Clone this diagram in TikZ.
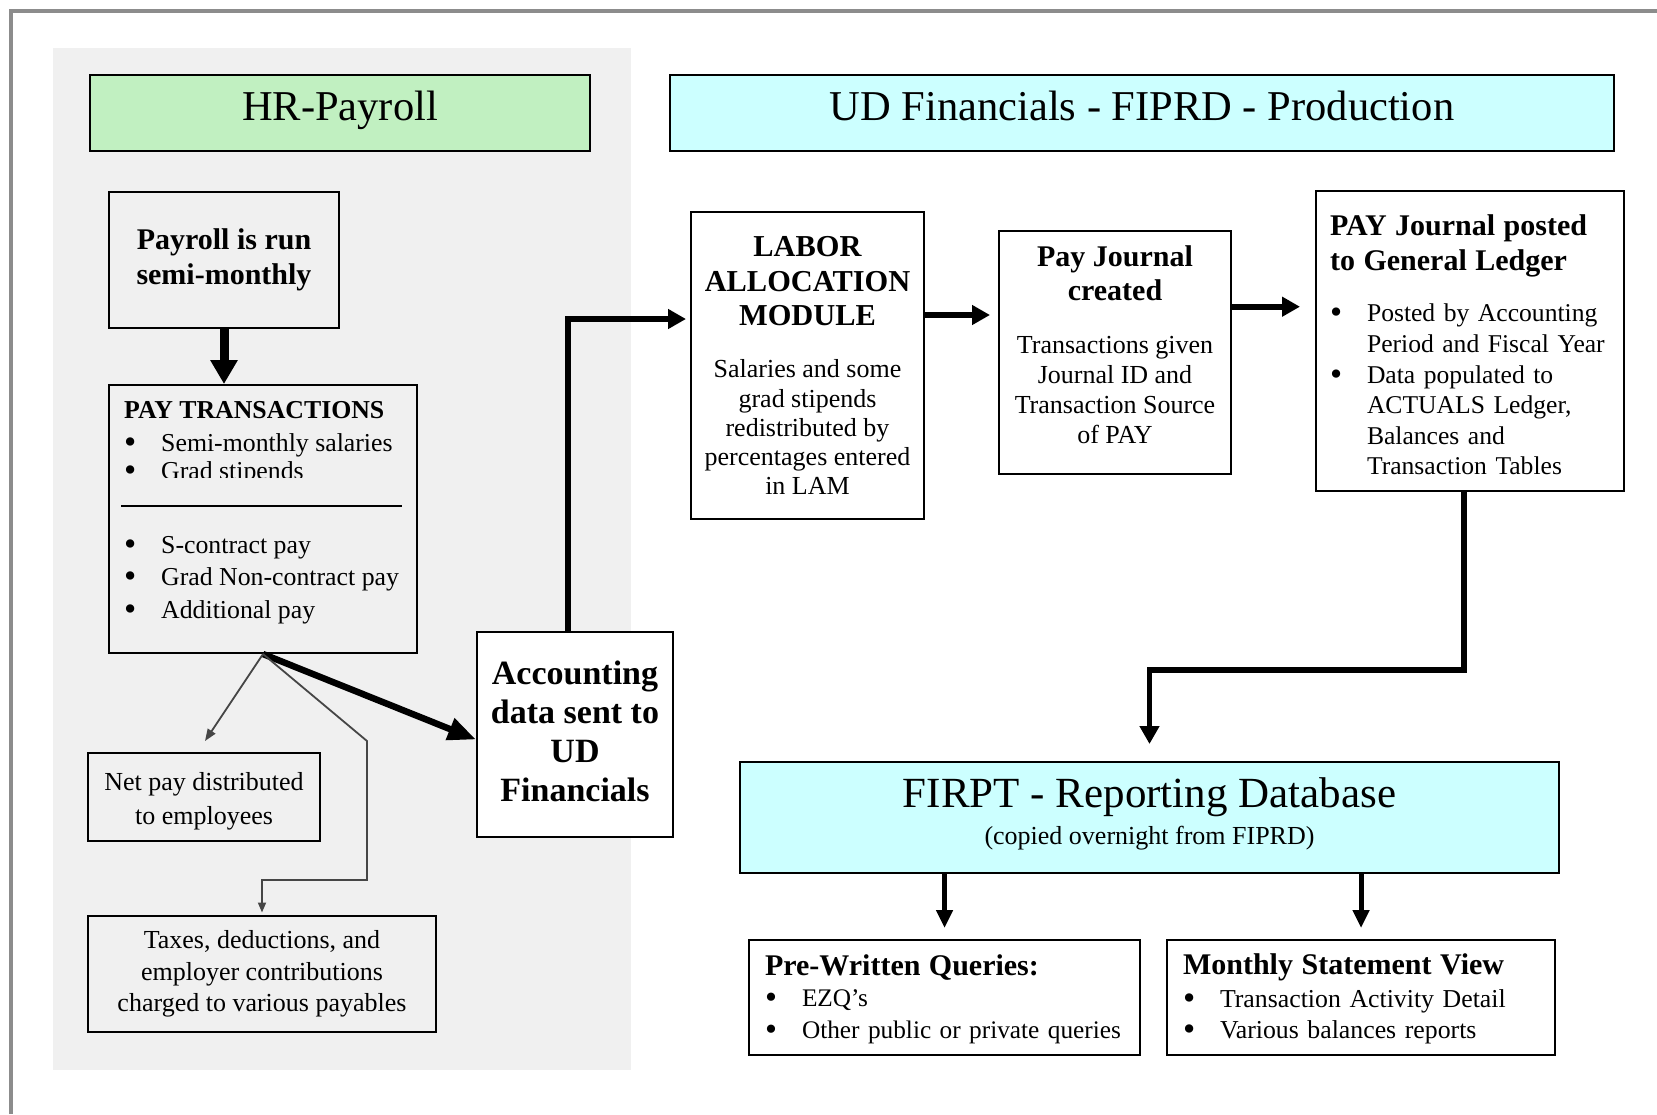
\documentclass[tikz,border=0pt]{standalone}
\usepackage{fontspec}
\setmainfont{Liberation Serif}
\usetikzlibrary{arrows.meta}

\definecolor{hrgreen}{RGB}{193,240,193}
\definecolor{udcyan}{RGB}{204,255,255}
\definecolor{panelgray}{RGB}{240,240,240}
\definecolor{framegray}{RGB}{140,140,140}
\definecolor{linegray}{RGB}{70,70,70}

\newcommand{\fsz}[2]{\fontsize{#1}{#2}\selectfont}
\newcommand{\boxhead}[1]{{\fsz{30}{34}\bfseries #1}}
\newcommand{\labhead}[1]{{\fsz{30.4}{35}\bfseries #1}}
\newcommand{\bulitem}{\makebox[37pt][l]{\raisebox{-2pt}{\scalebox{1.35}{\textbullet}}}}
\newcommand{\bulgap}{\makebox[37pt]{}}
\newcommand{\lift}[1]{\rule[-#1]{0pt}{#1}}
\newcommand{\sink}[1]{\rule{0pt}{#1}}

\tikzset{
  box/.style={draw, line width=2pt, rectangle, inner sep=0pt, align=center},
  leftbox/.style={box, align=left, inner xsep=16pt},
  title/.style={font={\fsz{42.5}{48}}, text height=28pt, text depth=14pt},
  bigarrow/.style={line width=9pt, -{Triangle[width=26pt,length=24pt]}},
  fatarrow/.style={line width=6.5pt, -{Triangle[width=22pt,length=28pt]}},
  flowarrow/.style={line width=6pt, -{Triangle[width=19pt,length=18pt]}},
  downarrow/.style={line width=5pt, -{Triangle[width=16pt,length=18pt]}},
  thinarrow/.style={linegray, line width=1.8pt, -{Triangle[width=9pt,length=12pt]}}
}

\begin{document}
\begin{tikzpicture}[x=1pt, y=-1pt]
    \useasboundingbox (0,0) rectangle (1657,1114);
    % Cadre et fond
    \draw[framegray, line width=4.5pt] (11,1114) -- (11,11) -- (1657,11);
    \fill[panelgray] (53,47.5) rectangle (631,1070);
    % Titres
    \node[box, title, fill=hrgreen, minimum width=500, minimum height=76] (hr) at (340,113) {HR-Payroll};
    \node[box, title, fill=udcyan, minimum width=944, minimum height=76] (ud) at (1142,113) {UD Financials - FIPRD - Production};
    % HR-Payroll
    \node[box, font={\fsz{30}{35}\bfseries}, minimum width=230, minimum height=136] (run) at (224,260) {Payroll is run\\semi-monthly};
    \node[box, minimum width=308, minimum height=268] (paytr) at (263,519) {};
    \begin{scope}
        \clip (109,385) rectangle (417,477);
        \node[anchor=north west, inner xsep=15pt, inner ysep=16pt, align=left, font={\fsz{25.8}{28}}] (paylist) at (109,385)
            {\textbf{PAY TRANSACTIONS}\\[5pt] \bulitem Semi-monthly salaries\\ \bulitem Grad stipends};
    \end{scope}
    \draw[line width=1.5pt] (121,506) -- (402,506);
    \node[anchor=north west, inner xsep=15pt, inner ysep=16pt, align=left, font={\fsz{25.8}{32.5}}] (paymore) at (109,520)
        {\bulitem S-contract pay\\ \bulitem Grad Non-contract pay\\ \bulitem Additional pay};
    \node[box, font={\fsz{26}{33.8}}, minimum width=232, minimum height=88] (netpay) at (204,797)
        {\sink{26pt}Net pay distributed\\to employees};
    \node[box, font={\fsz{26}{31.7}}, minimum width=348, minimum height=116] (taxes) at (262,974)
        {Taxes, deductions, and\\employer contributions\\charged to various payables};
    \node[box, fill=white, font={\fsz{34}{39.1}\bfseries}, minimum width=196, minimum height=205] (acct) at (575,734.5)
        {Accounting\\data sent to\\UD\\Financials\lift{7pt}};
    % UD Financials
    \node[box, font={\fsz{26}{29.3}}, minimum width=233, minimum height=307] (labor) at (807.5,365.5)
        {\labhead{LABOR}\\[5.6pt] \labhead{ALLOCATION}\\[5.6pt] \labhead{MODULE}\\[22.5pt] Salaries and some\\grad stipends\\redistributed by\\percentages entered\\in LAM};
    \node[box, font={\fsz{26}{29.9}}, minimum width=232, minimum height=243] (journal) at (1115,352.5)
        {\boxhead{Pay Journal}\\[3.9pt] \boxhead{created}\\[22.9pt] Transactions given\\Journal ID and\\Transaction Source\\of PAY\lift{16pt}};
    \node[leftbox, inner xsep=14pt, font={\fsz{25.6}{30.6}}, text width=280, minimum width=308, minimum height=300] (posted) at (1470,341)
        {\sink{28.5pt}\boxhead{PAY Journal posted}\\[4.3pt] \boxhead{to General Ledger}\\[21.2pt] \bulitem Posted by Accounting\\ \bulgap Period and Fiscal Year\\ \bulitem Data populated to\\ \bulgap ACTUALS Ledger,\\ \bulgap Balances and\\ \bulgap Transaction Tables};
    % FIRPT
    \node[box, fill=udcyan, font={\fsz{26}{30}}, minimum width=819, minimum height=111] (firpt) at (1149.5,817.5)
        {{\fsz{43}{48}FIRPT - Reporting Database}\\[7.2pt] (copied overnight from FIPRD)\lift{13pt}};
    \node[leftbox, font={\fsz{25.3}{31.7}}, text width=359, minimum width=391, minimum height=115] (queries) at (944.5,997.5)
        {\sink{24pt}\boxhead{Pre-Written Queries:}\\[0pt] \bulitem EZQ’s\\ \bulitem Other public or private queries};
    \node[leftbox, font={\fsz{25.8}{31.7}}, text width=356, minimum width=388, minimum height=115] (monthly) at (1361,997.5)
        {\sink{24pt}\boxhead{Monthly Statement View}\\[1pt] \bulitem Transaction Activity Detail\\ \bulitem Various balances reports};
    % Fleches
    \coordinate (nettip) at (205,741);
    \coordinate (taxbend) at (367,741);
    \coordinate (taxturn) at (367,880);
    \coordinate (lamin) at ([xshift=-7pt]acct.north);
    \coordinate (ljout) at ([yshift=50.5pt]labor.east);
    \coordinate (jpout) at ([yshift=45.8pt]journal.east);
    \coordinate (glout) at ([xshift=-6pt]posted.south);
    \draw[bigarrow] (run.south) -- (run.south |- paytr.north);
    \draw[fatarrow] (paytr.south) -- ([yshift=-5pt]acct.west);
    \draw[thinarrow] (paytr.south) -- (nettip);
    \draw[thinarrow, -{Triangle[width=8pt,length=10pt]}] (paytr.south) -- (taxbend) -- (taxturn) -| ([yshift=2.5pt]taxes.north);
    \draw[flowarrow, shorten >=4pt] (lamin) |- ([yshift=46.5pt]labor.west);
    \draw[flowarrow, shorten >=8pt] (ljout) -- (ljout -| journal.west);
    \draw[flowarrow, shorten >=15pt] (jpout) -- (jpout -| posted.west);
    \draw[flowarrow, line width=5.5pt] (glout) -- ++(0,178) -| ([yshift=17pt]firpt.north);
    \draw[downarrow] (firpt.south -| queries.north) -- ([yshift=11pt]queries.north);
    \draw[downarrow] (firpt.south -| monthly.north) -- ([yshift=11pt]monthly.north);
\end{tikzpicture}
\end{document}
